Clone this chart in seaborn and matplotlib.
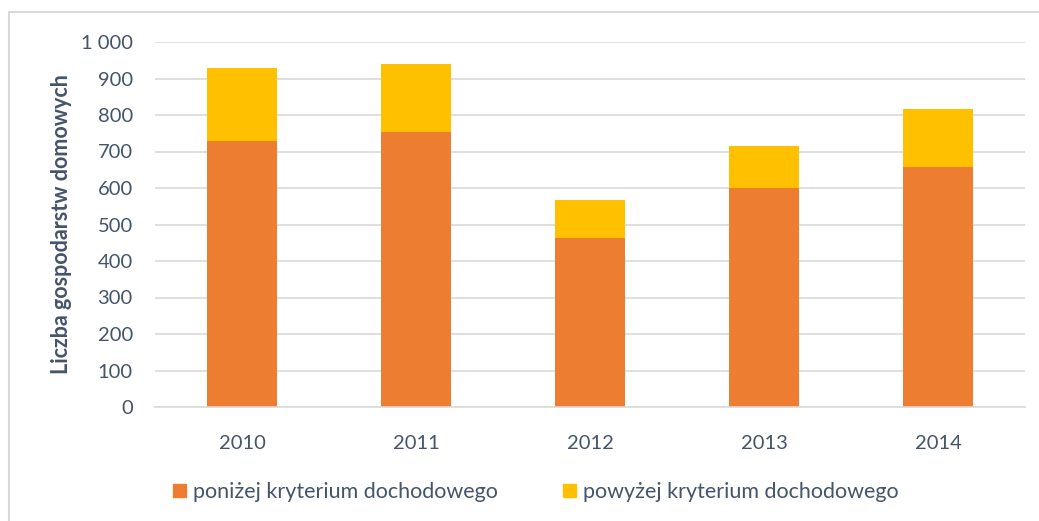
import matplotlib
matplotlib.use("Agg")
import matplotlib.pyplot as plt
from matplotlib.patches import Rectangle, Patch
from matplotlib.ticker import FuncFormatter
import seaborn as sns
import pandas as pd

years = ["2010", "2011", "2012", "2013", "2014"]
below = [730, 753, 462, 600, 658]
above = [199, 188, 106, 115, 158]
labels = ["poniżej kryterium dochodowego", "powyżej kryterium dochodowego"]

color_below = "#ED7D31"
color_above = "#FFC000"
text_color = "#44546A"
grid_color = "#D9D9D9"

sns.set_theme(style="white")
plt.rcParams["font.family"] = ["Lato", "DejaVu Sans"]

df = pd.DataFrame({"year": years, "below": below, "above": above})
df["total"] = df["below"] + df["above"]

fig = plt.figure(figsize=(10.39, 5.21), dpi=100)
ax = fig.add_axes([155 / 1039, 1 - 407 / 521, 870 / 1039, 365 / 521])

sns.barplot(data=df, x="year", y="total", color=color_above, width=0.4,
            saturation=1, linewidth=0, ax=ax, order=years)
sns.barplot(data=df, x="year", y="below", color=color_below, width=0.4,
            saturation=1, linewidth=0, ax=ax, order=years)

ax.set_ylim(0, 1000)
ax.set_xlim(-0.5, 4.5)
ax.set_yticks(range(0, 1001, 100))
ax.yaxis.set_major_formatter(FuncFormatter(lambda v, p: f"{int(v):,}".replace(",", " ")))
ax.grid(axis="y", color=grid_color, linewidth=1.2)
ax.set_axisbelow(True)
for s in ["top", "right", "left"]:
    ax.spines[s].set_visible(False)
ax.spines["bottom"].set_color(grid_color)
ax.spines["bottom"].set_linewidth(1.2)
ax.tick_params(axis="y", length=0, pad=16, labelsize=14.5, labelcolor=text_color)
ax.tick_params(axis="x", length=0, pad=20, labelsize=14.5, labelcolor=text_color)
ax.set_xlabel("")
ax.set_ylabel("Liczba gospodarstw domowych", fontsize=15.5, fontweight="bold",
              color=text_color, labelpad=6)

handles = [Patch(color=color_below), Patch(color=color_above)]
fig.legend(handles, labels, loc="center", bbox_to_anchor=(536 / 1039, 1 - 492 / 521),
           ncol=2, frameon=False, fontsize=15.5, labelcolor=text_color,
           handlelength=0.6, handleheight=0.6, handletextpad=0.35, columnspacing=3.0)

fig.patches.append(Rectangle((9 / 1039, -0.1), 1.2, 1.1 - 12 / 521, transform=fig.transFigure,
                             fill=False, edgecolor=grid_color, linewidth=1.5))

fig.savefig("out.png", dpi=100)
